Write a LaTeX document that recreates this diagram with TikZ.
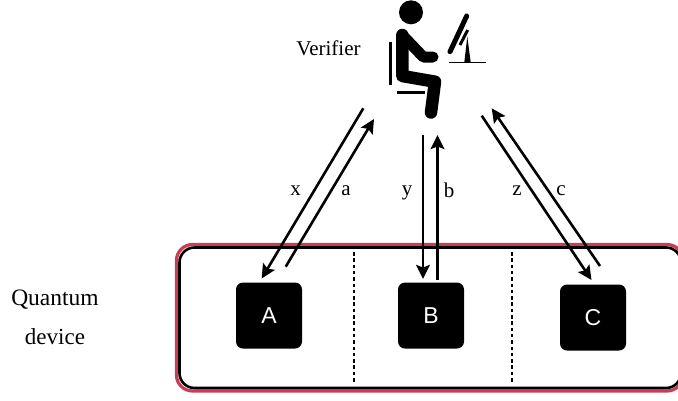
\documentclass[tikz,border=0pt]{standalone}
\usepackage{fontspec}
\setmainfont{Liberation Serif}
\setsansfont{Liberation Sans}
\usetikzlibrary{arrows.meta}
\definecolor{device edge}{RGB}{200,62,85}
\tikzset{
  devicered/.style={draw=device edge, line width=3.2pt, rounded corners=16pt, minimum width=506.5pt, minimum height=146.5pt, inner sep=0pt},
  deviceblack/.style={draw=black, line width=2.6pt, rounded corners=15pt, minimum width=501.5pt, minimum height=140.5pt, inner sep=0pt},
  qubit/.style={fill=black, text=white, rounded corners=7pt, minimum size=66pt, inner sep=0pt, font=\sffamily\fontsize{23}{23}\selectfont},
  divider/.style={line width=2.2pt, dash pattern=on 3.5pt off 2.8pt},
  channel/.style={-{Stealth[length=14pt,width=13.5pt,inset=2.5pt]}, line width=2.6pt},
  lbl/.style={font=\fontsize{21}{21}\selectfont, inner sep=0pt},
  limb/.style={line width=12.5pt, line cap=round, line join=round},
  thinbar/.style={line width=2.8pt}
}
\begin{document}
\begin{tikzpicture}[x=1pt,y=-1pt]
    \useasboundingbox (0,0) rectangle (678,400);
    % device
    \node[devicered] (outerbox) at (429.75,317.75) {};
    \node[deviceblack] (innerbox) at (430.25,317.75) {};
    \node[qubit] (A) at (269,315.5) {A};
    \node[qubit] (B) at (431,315.5) {B};
    \node[qubit] (C) at (593,317.5) {C};
    \coordinate (d1t) at (353.7,252);
    \coordinate (d1b) at (353.7,384);
    \coordinate (d2t) at (512,252);
    \coordinate (d2b) at (512,384);
    \draw[divider] (d1t) -- (d1b);
    \draw[divider] (d2t) -- (d2b);
    % verifier icon
    \fill (411,12.3) circle (12);
    \draw[limb] (402.3,35) -- (402.3,76) -- (435,81.7) -- (431,112.5);
    \draw[line width=11pt, line cap=round, line join=round] (402.3,35) -- (423.3,57) -- (433,57);
    \draw[thinbar] (390.7,42) -- (390.7,85);
    \draw[thinbar] (396.7,92.3) -- (425,92.3);
    \draw[line width=5pt, line cap=round] (450,51.7) -- (466.7,16);
    \draw[line width=3pt] (460,45) -- (467.7,30);
    \fill (464.3,62.3) -- (470.7,62.3) -- (467.3,36.7) -- cycle;
    \draw[line width=1.5pt] (449,62.7) -- (485.7,62.7);
    % channels
    \coordinate (xs) at (363.3,108.3);
    \coordinate (xe) at (261.7,278.5);
    \coordinate (as) at (285.7,266.7);
    \coordinate (ae) at (374,119);
    \coordinate (ys) at (423,135);
    \coordinate (ye) at (423,279);
    \coordinate (bs) at (437.5,280);
    \coordinate (be) at (437.5,135);
    \coordinate (zs) at (481.7,115.7);
    \coordinate (ze) at (591.5,280);
    \coordinate (cs) at (600,266);
    \coordinate (ce) at (491.7,108.3);
    \draw[channel] (xs) -- (xe);
    \draw[channel] (as) -- (ae);
    \draw[channel] (ys) -- (ye);
    \draw[channel] (bs) -- (be);
    \draw[channel] (zs) -- (ze);
    \draw[channel] (cs) -- (ce);
    % labels
    \node[lbl] (xlabel) at (295.5,191) {x};
    \node[lbl] (alabel) at (346,191) {a};
    \node[lbl] (ylabel) at (407,193) {y};
    \node[lbl] (blabel) at (449,190) {b};
    \node[lbl] (zlabel) at (517,191) {z};
    \node[lbl] (clabel) at (561,191) {c};
    \node[lbl] (verifier) at (328.5,48) {Verifier};
    \node[lbl, font=\fontsize{23.5}{23.5}\selectfont] (quantum) at (55,300) {Quantum};
    \node[lbl, font=\fontsize{23}{23}\selectfont] (devicetext) at (55,337) {device};
\end{tikzpicture}
\end{document}
